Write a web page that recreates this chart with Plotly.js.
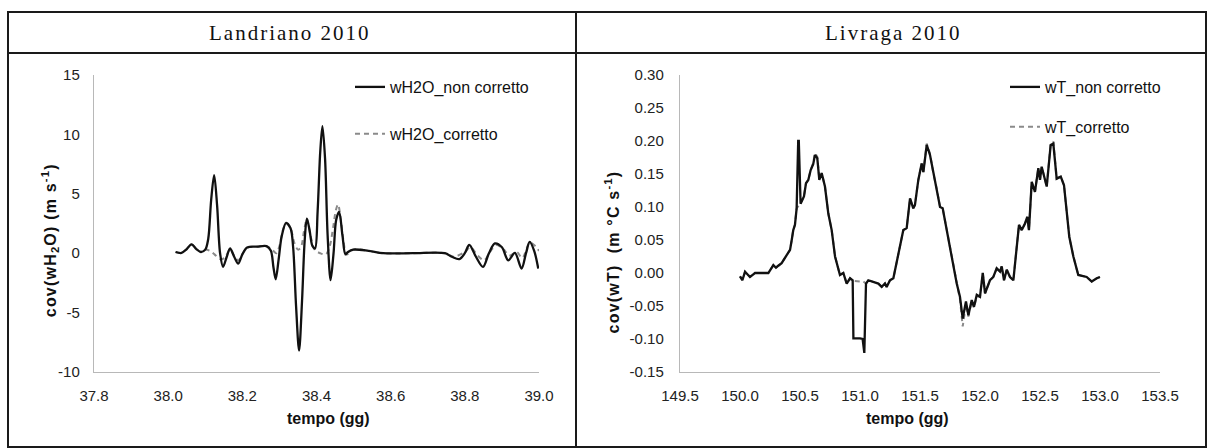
<!DOCTYPE html>
<html>
<head>
<meta charset="utf-8">
<script src="https://cdn.plot.ly/plotly-3.0.1.min.js"></script>
<style>
  html, body { margin: 0; padding: 0; background: #fff; }
  #chart { width: 1214px; height: 448px; }
  g.annotation[data-index="0"] text, g.annotation[data-index="1"] text { letter-spacing: 2px; }
  g.annotation[data-index="2"] text, g.annotation[data-index="3"] text { letter-spacing: 1.2px; }
</style>
</head>
<body>
<div id="chart"></div>
<script>
// ---------- Landriano 2010 (left panel) ----------
const landTempo = [38.02, 38.036, 38.05, 38.063, 38.076, 38.088, 38.100, 38.108, 38.116, 38.124, 38.132, 38.140, 38.148,
  38.158, 38.167, 38.178, 38.189, 38.200, 38.213, 38.24, 38.265, 38.277, 38.284, 38.290, 38.298, 38.306, 38.318, 38.330,
  38.337, 38.345, 38.353, 38.361, 38.368, 38.374, 38.381, 38.389, 38.396, 38.403, 38.410, 38.416, 38.423, 38.430, 38.438,
  38.446, 38.453, 38.461, 38.470, 38.478, 38.485, 38.499, 38.54, 38.58, 38.66, 38.746, 38.765, 38.785, 38.800, 38.812,
  38.830, 38.849, 38.865, 38.881, 38.900, 38.917, 38.935, 38.953, 38.965, 38.975, 38.987, 38.998];
const wH2O_nonCorretto = [0.1, 0.02, 0.35, 0.75, 0.35, 0.1, 0.3, 1.2, 4.5, 6.57, 4.0, 0.0, -1.15,
  -0.3, 0.4, -0.3, -0.87, -0.1, 0.48, 0.55, 0.6, 0.2, -1.2, -2.2, -0.5, 1.4, 2.55, 2.1,
  0.5, -4.5, -8.2, -4.0, 1.0, 2.9, 2.0, 0.6, 0.4, 3.5, 8.5, 10.7, 8.0, 1.5, -2.27,
  0.0, 2.8, 3.48, 1.5, -0.1, 0.1, 0.3, 0.2, 0.0, 0.0, 0.0, -0.3, -0.5, 0.0, 0.7,
  -0.3, -1.15, 0.0, 0.82, 0.5, -0.6, 0.03, -1.29, 0.0, 0.95, 0.2, -1.29];

const landTempoCorr = [38.02, 38.036, 38.05, 38.063, 38.076, 38.088, 38.100, 38.112, 38.125, 38.140, 38.152, 38.167,
  38.178, 38.189, 38.200, 38.213, 38.24, 38.265, 38.280, 38.292, 38.300, 38.310, 38.318, 38.330, 38.340, 38.350, 38.358,
  38.366, 38.374, 38.383, 38.395, 38.410, 38.425, 38.435, 38.445, 38.452, 38.458, 38.465, 38.473, 38.481, 38.499, 38.54,
  38.58, 38.66, 38.746, 38.77, 38.80, 38.815, 38.835, 38.852, 38.870, 38.885, 38.905, 38.92, 38.94, 38.955, 38.975,
  38.99, 39.0];
const wH2O_corretto = [0.1, 0.02, 0.35, 0.75, 0.35, 0.1, 0.3, 0.2, -0.1, -0.5, -0.4, 0.3,
  -0.2, -0.6, -0.1, 0.45, 0.55, 0.6, 0.3, 0.0, 0.6, 2.0, 2.5, 2.1, 0.9, 0.3, 0.5,
  1.8, 2.9, 1.6, 0.3, 0.0, -0.1, 0.5, 2.2, 3.6, 4.1, 3.0, 1.0, -0.1, 0.3, 0.2,
  0.0, 0.0, 0.0, -0.3, 0.1, 0.5, -0.2, -0.6, 0.2, 0.7, 0.3, -0.2, 0.1, -0.4, 0.9,
  0.6, 0.2];

// ---------- Livraga 2010 (right panel) ----------
const livTempo = [150.00, 150.02, 150.042, 150.06, 150.083, 150.111, 150.125, 150.18, 150.236, 150.278, 150.30, 150.319,
  150.347, 150.389, 150.417, 150.431, 150.444, 150.458, 150.472, 150.485, 150.49, 150.505, 150.533, 150.55, 150.569,
  150.589, 150.61, 150.625, 150.644, 150.661, 150.681, 150.708, 150.736, 150.764, 150.792, 150.833, 150.861, 150.889,
  150.917, 150.939, 150.945, 151.0, 151.022, 151.036, 151.05, 151.069, 151.111, 151.153, 151.181, 151.208, 151.222,
  151.25, 151.278, 151.306, 151.333, 151.361, 151.389, 151.417, 151.444, 151.458, 151.486, 151.514, 151.528, 151.556,
  151.583, 151.611, 151.639, 151.667, 151.689, 151.722, 151.778, 151.806, 151.833, 151.856, 151.883, 151.903, 151.931,
  151.95, 151.973, 152.0, 152.023, 152.042, 152.083, 152.111, 152.139, 152.167, 152.181, 152.2, 152.223, 152.25,
  152.278, 152.306, 152.325, 152.348, 152.375, 152.394, 152.408, 152.431, 152.458, 152.486, 152.5, 152.514, 152.533,
  152.556, 152.589, 152.611, 152.639, 152.673, 152.7, 152.744, 152.778, 152.819, 152.889, 152.931, 152.973, 153.0];
const wT_nonCorretto = [-0.005, -0.011, 0.002, -0.002, -0.006, -0.002, 0.0, 0.0, 0.0, 0.012, 0.008, 0.011,
  0.015, 0.027, 0.035, 0.05, 0.065, 0.073, 0.098, 0.200, 0.200, 0.105, 0.116, 0.136, 0.141,
  0.156, 0.165, 0.179, 0.174, 0.141, 0.151, 0.131, 0.09, 0.065, 0.025, -0.003, 0.0, -0.016,
  -0.008, -0.011, -0.099, -0.099, -0.1, -0.121, -0.016, -0.011, -0.013, -0.016, -0.021, -0.016, -0.021,
  -0.011, -0.008, 0.015, 0.04, 0.065, 0.068, 0.113, 0.098, 0.103, 0.141, 0.166, 0.153, 0.194,
  0.179, 0.151, 0.128, 0.1, 0.098, 0.065, 0.012, -0.016, -0.036, -0.069, -0.043, -0.064, -0.041,
  -0.051, -0.033, -0.036, 0.0, -0.031, -0.011, -0.006, 0.007, 0.002, 0.01, -0.011, 0.005, -0.006,
  -0.011, 0.04, 0.073, 0.065, 0.075, 0.085, 0.065, 0.138, 0.123, 0.159, 0.141, 0.161, 0.146,
  0.131, 0.194, 0.196, 0.143, 0.146, 0.133, 0.055, 0.025, -0.003, -0.006, -0.013, -0.008, -0.006];
const wT_corretto = [-0.005, -0.011, 0.002, -0.002, -0.006, -0.002, 0.0, 0.0, 0.0, 0.012, 0.008, 0.011,
  0.015, 0.027, 0.035, 0.05, 0.065, 0.073, 0.098, 0.101, 0.103, 0.106, 0.116, 0.136, 0.141,
  0.156, 0.167, 0.182, 0.176, 0.143, 0.152, 0.131, 0.09, 0.065, 0.025, -0.003, 0.0, -0.016,
  -0.008, -0.011, -0.012, -0.013, -0.012, -0.014, -0.016, -0.011, -0.013, -0.016, -0.021, -0.016, -0.021,
  -0.011, -0.008, 0.015, 0.04, 0.065, 0.068, 0.113, 0.098, 0.103, 0.141, 0.166, 0.153, 0.196,
  0.181, 0.151, 0.128, 0.1, 0.098, 0.065, 0.012, -0.016, -0.040, -0.081, -0.047, -0.066, -0.043,
  -0.053, -0.035, -0.036, 0.0, -0.031, -0.011, -0.006, 0.007, 0.002, 0.01, -0.011, 0.005, -0.006,
  -0.011, 0.04, 0.073, 0.065, 0.075, 0.085, 0.065, 0.138, 0.123, 0.159, 0.141, 0.161, 0.146,
  0.131, 0.196, 0.199, 0.143, 0.146, 0.133, 0.055, 0.025, -0.003, -0.006, -0.013, -0.008, -0.006];

// ---------- tick labels ----------
const landXTicks = [37.8, 38.0, 38.2, 38.4, 38.6, 38.8, 39.0];
const landXLabels = ['37.8', '38.0', '38.2', '38.4', '38.6', '38.8', '39.0'];
const landYTicks = [-10, -5, 0, 5, 10, 15];
const landYLabels = ['-10', '-5', '0', '5', '10', '15'];
const livXTicks = [149.5, 150.0, 150.5, 151.0, 151.5, 152.0, 152.5, 153.0, 153.5];
const livXLabels = ['149.5', '150.0', '150.5', '151.0', '151.5', '152.0', '152.5', '153.0', '153.5'];
const livYTicks = [-0.15, -0.10, -0.05, 0.00, 0.05, 0.10, 0.15, 0.20, 0.25, 0.30];
const livYLabels = ['-0.15', '-0.10', '-0.05', '0.00', '0.05', '0.10', '0.15', '0.20', '0.25', '0.30'];

const panelTitles = ['Landriano 2010', 'Livraga 2010'];
const seriesNames = ['wH2O_non corretto', 'wH2O_corretto', 'wT_non corretto', 'wT_corretto'];

// ---------- geometry helpers (page pixels -> paper) ----------
const W = 1214, H = 448;
const px = v => v / W;
const py = v => 1 - v / H;

const FONT = 'Liberation Sans, Arial, sans-serif';
const solidLine = { color: '#111111', width: 2.3 };
const dashLine = { color: '#8a8a8a', width: 2, dash: '5px,4px' };

const traces = [
  { x: landTempoCorr, y: wH2O_corretto, name: seriesNames[1], type: 'scatter', mode: 'lines',
    line: Object.assign({ shape: 'spline', smoothing: 0.9 }, dashLine), xaxis: 'x', yaxis: 'y',
    legend: 'legend', legendgroup: 'b', legendrank: 2 },
  { x: landTempo, y: wH2O_nonCorretto, name: seriesNames[0], type: 'scatter', mode: 'lines',
    line: Object.assign({ shape: 'spline', smoothing: 0.9 }, solidLine), xaxis: 'x', yaxis: 'y',
    legend: 'legend', legendgroup: 'a', legendrank: 1 },
  { x: livTempo, y: wT_corretto, name: seriesNames[3], type: 'scatter', mode: 'lines',
    line: dashLine, xaxis: 'x2', yaxis: 'y2', legend: 'legend2', legendgroup: 'd', legendrank: 2 },
  { x: livTempo, y: wT_nonCorretto, name: seriesNames[2], type: 'scatter', mode: 'lines',
    line: solidLine, xaxis: 'x2', yaxis: 'y2', legend: 'legend2', legendgroup: 'c', legendrank: 1 }
];

const axisCommon = {
  showgrid: false, zeroline: false, showline: true, linecolor: '#b8b8b8', linewidth: 1.2,
  ticks: '', tickmode: 'array', tickfont: { family: FONT, size: 15, color: '#222' }, fixedrange: true
};

const plotTop = 75, plotBottom = 372;

const layout = {
  width: W, height: H,
  margin: { l: 0, r: 0, t: 0, b: 0 },
  paper_bgcolor: '#ffffff', plot_bgcolor: 'rgba(0,0,0,0)',
  showlegend: true,
  xaxis: Object.assign({}, axisCommon, { domain: [px(94), px(539)], range: [37.8, 39.0],
    tickvals: landXTicks, ticktext: landXLabels, anchor: 'y', ticklabelstandoff: 10 }),
  yaxis: Object.assign({}, axisCommon, { domain: [py(plotBottom), py(plotTop)], range: [-10, 15],
    tickvals: landYTicks, ticktext: landYLabels, anchor: 'x', ticklabelstandoff: 10 }),
  xaxis2: Object.assign({}, axisCommon, { domain: [px(680), px(1160)], range: [149.5, 153.5],
    tickvals: livXTicks, ticktext: livXLabels, anchor: 'y2', ticklabelstandoff: 10 }),
  yaxis2: Object.assign({}, axisCommon, { domain: [py(plotBottom), py(plotTop)], range: [-0.15, 0.30],
    tickvals: livYTicks, ticktext: livYLabels, anchor: 'x2', ticklabelstandoff: 12 }),
  legend: { x: px(350), y: py(70), xanchor: 'left', yanchor: 'top', bgcolor: 'rgba(0,0,0,0)',
    font: { family: FONT, size: 16, color: '#111' }, tracegroupgap: 23, itemwidth: 30 },
  legend2: { x: px(1005), y: py(70), xanchor: 'left', yanchor: 'top', bgcolor: 'rgba(0,0,0,0)',
    font: { family: FONT, size: 16, color: '#111' }, tracegroupgap: 16, itemwidth: 30 },
  annotations: [
    { text: panelTitles[0], x: px(290), y: py(33), xref: 'paper', yref: 'paper', showarrow: false,
      xanchor: 'center', yanchor: 'middle', font: { family: 'Liberation Serif, Times New Roman, serif', size: 21, color: '#111' } },
    { text: panelTitles[1], x: px(893), y: py(33), xref: 'paper', yref: 'paper', showarrow: false,
      xanchor: 'center', yanchor: 'middle', font: { family: 'Liberation Serif, Times New Roman, serif', size: 21, color: '#111' } },
    { text: '<b>cov(wH<sub>2</sub>O) (m s<sup>-1</sup>)</b>', x: px(50), y: py(240), xref: 'paper', yref: 'paper',
      showarrow: false, textangle: -90, xanchor: 'center', yanchor: 'middle', font: { family: FONT, size: 16, color: '#111' } },
    { text: '<b>cov(wT)\u00a0 (m °C s<sup>-1</sup>)</b>', x: px(612), y: py(252), xref: 'paper', yref: 'paper',
      showarrow: false, textangle: -90, xanchor: 'center', yanchor: 'middle', font: { family: FONT, size: 16, color: '#111' } },
    { text: '<b>tempo (gg)</b>', x: px(328), y: py(418), xref: 'paper', yref: 'paper', showarrow: false,
      xanchor: 'center', yanchor: 'middle', font: { family: FONT, size: 16, color: '#111' } },
    { text: '<b>tempo (gg)</b>', x: px(907), y: py(418), xref: 'paper', yref: 'paper', showarrow: false,
      xanchor: 'center', yanchor: 'middle', font: { family: FONT, size: 16, color: '#111' } }
  ],
  shapes: [
    { type: 'rect', xref: 'paper', yref: 'paper', x0: px(8), x1: px(1206), y0: py(447), y1: py(12),
      line: { color: '#1a1a1a', width: 2 } },
    { type: 'line', xref: 'paper', yref: 'paper', x0: px(8), x1: px(1206), y0: py(53), y1: py(53),
      line: { color: '#1a1a1a', width: 2 } },
    { type: 'line', xref: 'paper', yref: 'paper', x0: px(576), x1: px(576), y0: py(12), y1: py(447),
      line: { color: '#1a1a1a', width: 2 } }
  ]
};

Plotly.newPlot('chart', traces, layout, { displayModeBar: false, staticPlot: true });
</script>
</body>
</html>
